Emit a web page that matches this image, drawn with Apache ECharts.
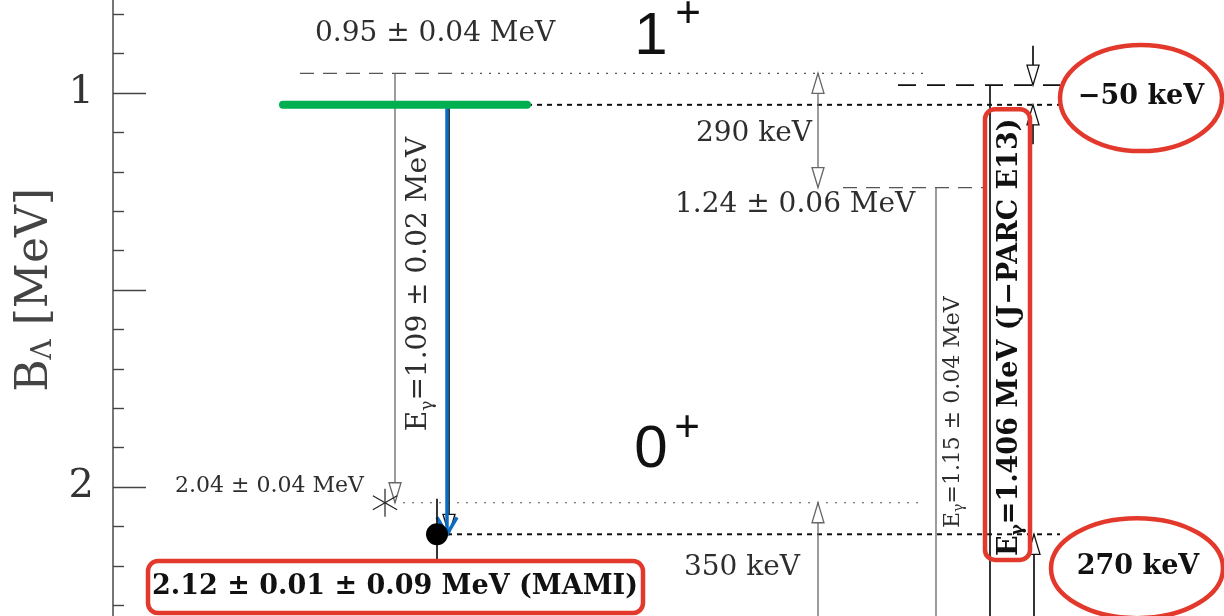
<!DOCTYPE html>
<html>
<head>
<meta charset="utf-8">
<script src="https://cdn.jsdelivr.net/npm/echarts@6/dist/echarts.min.js"></script>
<style>
  html, body { margin: 0; padding: 0; background: #fff; }
  #chart { width: 1224px; height: 616px; }
</style>
</head>
<body>
<div id="chart"></div>
<script>
// Lambda binding energies B_Λ (MeV) of the A = 4 hypernuclear levels
const levelKeys = ['H1emul', 'H1mami', 'He1jparc', 'He1emul', 'H0emul', 'H0mami', 'He0'];
const levelB    = [0.95, 1.03, 0.98, 1.24, 2.04, 2.12, 2.39];
const levelText = ['0.95 ± 0.04 MeV', '', '', '1.24 ± 0.06 MeV', '2.04 ± 0.04 MeV', '2.12 ± 0.01 ± 0.09 MeV (MAMI)', ''];
const mamiSysErr = 0.09;

// gamma-ray transitions (MeV)
const gammaE    = [1.09, 1.15, 1.406];
const gammaText = ['=1.09 ± 0.02 MeV', '=1.15 ± 0.04 MeV', '=1.406 MeV (J−PARC E13)'];

// level spacings (keV)
const gapKeV  = [290, -50, 350, 270];
const gapText = ['290 keV', '−50 keV', '350 keV', '270 keV'];

// spin-parity labels and labelled axis values
const spinLabels = ['1', '0'];
const yTickLabels = [1, 2];

const B = k => levelB[levelKeys.indexOf(k)];

const SERIF = "'DejaVu Serif', 'Liberation Serif', serif";
const SANS = "'Liberation Sans', Arial, sans-serif";
const RED = '#e2392c';

const ST = {
  gDash:  { stroke: '#555', lineWidth: 1.3, lineDash: [14, 9] },
  gDot:   { stroke: '#555', lineWidth: 1.2, lineDash: [2, 7] },
  kLong:  { stroke: '#111', lineWidth: 1.8, lineDash: [18, 11] },
  kShort: { stroke: '#111', lineWidth: 2, lineDash: [5, 5] },
  gLine:  { stroke: '#666', lineWidth: 1.3 },
  kLine:  { stroke: '#111', lineWidth: 1.7 },
  green:  { stroke: '#00b050', lineWidth: 8, lineCap: 'round' },
  blue:   { stroke: '#0a6cc4', lineWidth: 3.5 }
};

const TXT = {
  mid:   { fontFamily: SERIF, fontSize: 28, fill: '#2e2e2e' },
  small: { fontFamily: SERIF, fontSize: 22, fill: '#2e2e2e' },
  bold:  { fontFamily: SERIF, fontSize: 27, fontWeight: 'bold', fill: '#111' },
  spin:  { fontFamily: SANS, fontSize: 60, fill: '#111' },
  sup:   { fontFamily: SANS, fontSize: 44, fill: '#111' }
};

// E with a gamma subscript, followed by the rest of the label
function gammaRich(rest, base) {
  return {
    text: '{m|E}{s|γ}{m|' + rest + '}',
    rich: {
      m: { fontFamily: base.fontFamily, fontSize: base.fontSize, fontWeight: base.fontWeight || 'normal', fill: base.fill, lineHeight: base.fontSize * 1.2, verticalAlign: 'middle' },
      s: { fontFamily: base.fontFamily, fontSize: Math.round(base.fontSize * 0.62), fontWeight: base.fontWeight || 'normal', fill: base.fill, lineHeight: base.fontSize * 0.5, verticalAlign: 'bottom' }
    }
  };
}

// horizontal column positions of the drawing (axis units)
const elements = [
  // energy levels
  { kind: 'seg', x1: 300, x2: 462, b: B('H1emul'), st: 'gDash' },
  { kind: 'seg', x1: 462, x2: 925, b: B('H1emul'), st: 'gDot' },
  { kind: 'seg', x1: 898, x2: 1060, b: B('He1jparc'), st: 'kLong' },
  { kind: 'seg', x1: 843, x2: 985, b: B('He1emul'), st: 'gDash' },
  { kind: 'seg', x1: 403, x2: 920, b: B('H0emul'), st: 'gDot' },
  { kind: 'seg', x1: 527, x2: 1060, b: B('H1mami'), st: 'kShort' },
  { kind: 'seg', x1: 447, x2: 1060, b: B('H0mami'), st: 'kShort' },
  // transitions
  { kind: 'vline', x: 936, b1: B('He1emul'), b2: B('He0'), st: 'gLine' },
  { kind: 'vline', x: 990, b1: B('He1jparc'), b2: B('He0'), st: 'kLine' },
  { kind: 'arrow', x: 395, b1: B('H1emul'), b2: B('H0emul'), st: 'gLine' },
  { kind: 'arrow', x: 818, b1: B('H1emul'), b2: B('He1emul'), st: 'gLine', both: true },
  { kind: 'arrow', x: 818, b1: B('He0'), b2: B('H0emul'), st: 'gLine' },
  { kind: 'arrow', x: 1033, b1: B('He1jparc') - 0.1, b2: B('He1jparc'), st: 'kLine' },
  { kind: 'arrow', x: 1033, b1: B('H1mami') + 0.1, b2: B('H1mami'), st: 'kLine' },
  { kind: 'arrow', x: 1034, b1: B('He0'), b2: B('H0mami'), st: 'kLine' },
  { kind: 'arrow', x: 449, b1: B('H1mami'), b2: B('H0mami'), st: 'kLine' },
  { kind: 'arrow', x: 447, b1: B('H1mami'), b2: B('H0mami'), st: 'blue', open: true },
  { kind: 'seg', x1: 283, x2: 527, b: B('H1mami'), st: 'green' },
  // measured ground states
  { kind: 'vline', x: 437, b1: B('H0mami') - mamiSysErr, b2: B('H0mami') + mamiSysErr, st: 'kLine' },
  { kind: 'dot', x: 437, b: B('H0mami') },
  { kind: 'star', x: 385, b: B('H0emul') },
  // highlighted annotations
  { kind: 'rect', x1: 148, x2: 643, b1: 2.188, b2: 2.32, fill: '#fff' },
  { kind: 'rect', x1: 985, x2: 1030, b1: 1.041, b2: 2.185, fill: 'none' },
  { kind: 'ellipse', x: 1141, b: 1.013, rx: 81, ry: 53 },
  { kind: 'ellipse', x: 1137, b: 2.206, rx: 86, ry: 50 },
  // text
  { kind: 'text', x: 315, b: B('H1emul'), dy: -40, text: levelText[0], ts: 'mid', align: 'left' },
  { kind: 'text', x: 812, b: B('H1emul'), dy: 60, text: gapText[0], ts: 'mid', align: 'right' },
  { kind: 'text', x: 675, b: B('He1emul'), dy: 17, text: levelText[3], ts: 'mid', align: 'left' },
  { kind: 'text', x: 800, b: B('H0emul'), dy: 65, text: gapText[2], ts: 'mid', align: 'right' },
  { kind: 'text', x: 175, b: B('H0emul'), dy: -16, text: levelText[4], ts: 'small', align: 'left' },
  { kind: 'text', x: 395, b: B('H0mami'), dy: 53, text: levelText[5], ts: 'bold', align: 'center' },
  { kind: 'text', x: 1141, b: 1.005, dy: 2, text: gapText[1], ts: 'bold', align: 'center' },
  { kind: 'text', x: 1138, b: B('H0mami'), dy: 33, text: gapText[3], ts: 'bold', align: 'center' },
  { kind: 'gtext', x: 419, b: 1.5, dy: -6, text: gammaText[0], ts: 'mid' },
  { kind: 'gtext', x: 953, b: 1.81, dy: 0, text: gammaText[1], ts: 'small' },
  { kind: 'gtext', x: 1010, b: 1.62, dy: 0, text: gammaText[2], ts: 'bold' },
  { kind: 'text', x: 651, b: B('H1emul'), dy: -36, text: spinLabels[0], ts: 'spin', align: 'center' },
  { kind: 'text', x: 688, b: B('H1emul'), dy: -58, text: '+', ts: 'sup', align: 'center' },
  { kind: 'text', x: 651, b: B('H0emul'), dy: -52, text: spinLabels[1], ts: 'spin', align: 'center' },
  { kind: 'text', x: 687, b: B('H0emul'), dy: -74, text: '+', ts: 'sup', align: 'center' }
];

function arrowHead(x, tip, dir, style, open) {
  const L = open ? 17 : 20, w = open ? 10 : 6;
  const base = tip - dir * L;
  if (open) {
    return { type: 'polyline', shape: { points: [[x - w, base], [x, tip], [x + w, base]] },
             style: Object.assign({}, style, { fill: null }) };
  }
  return { type: 'polygon', shape: { points: [[x, tip], [x - w, base], [x + w, base]] },
           style: Object.assign({}, style, { fill: '#fff', lineDash: null, lineWidth: 1.3 }) };
}

function renderItem(params, api) {
  const e = elements[params.dataIndex];
  const P = (x, b) => api.coord([x, b]);
  switch (e.kind) {
    case 'seg': {
      const a = P(e.x1, e.b), c = P(e.x2, e.b);
      return { type: 'line', shape: { x1: a[0], y1: a[1], x2: c[0], y2: c[1] }, style: Object.assign({}, ST[e.st]) };
    }
    case 'vline': {
      const a = P(e.x, e.b1), c = P(e.x, e.b2);
      return { type: 'line', shape: { x1: a[0], y1: a[1], x2: c[0], y2: c[1] }, style: Object.assign({}, ST[e.st]) };
    }
    case 'arrow': {
      const a = P(e.x, e.b1), c = P(e.x, e.b2);
      const dir = Math.sign(c[1] - a[1]);
      const kids = [{ type: 'line', shape: { x1: a[0], y1: a[1], x2: c[0], y2: c[1] }, style: Object.assign({}, ST[e.st]) }];
      kids.push(arrowHead(c[0], c[1], dir, ST[e.st], e.open));
      if (e.both) kids.push(arrowHead(a[0], a[1], -dir, ST[e.st], e.open));
      return { type: 'group', children: kids };
    }
    case 'dot': {
      const p = P(e.x, e.b);
      return { type: 'circle', shape: { cx: p[0], cy: p[1], r: 11 }, style: { fill: '#000' } };
    }
    case 'star': {
      const p = P(e.x, e.b), r = 14;
      const kids = [90, 30, 150].map(deg => {
        const t = deg * Math.PI / 180, dx = Math.cos(t) * r, dy = Math.sin(t) * r;
        return { type: 'line', shape: { x1: p[0] - dx, y1: p[1] - dy, x2: p[0] + dx, y2: p[1] + dy }, style: { stroke: '#222', lineWidth: 1.2 } };
      });
      return { type: 'group', children: kids };
    }
    case 'rect': {
      const a = P(e.x1, e.b1), c = P(e.x2, e.b2);
      return { type: 'rect', shape: { x: a[0], y: a[1], width: c[0] - a[0], height: c[1] - a[1], r: 10 },
               style: { fill: e.fill, stroke: RED, lineWidth: 4.5 } };
    }
    case 'ellipse': {
      const p = P(e.x, e.b);
      return { type: 'ellipse', shape: { cx: p[0], cy: p[1], rx: e.rx, ry: e.ry },
               style: { fill: 'none', stroke: RED, lineWidth: 4.5 } };
    }
    case 'text': {
      const p = P(e.x, e.b);
      return { type: 'text', x: p[0], y: p[1] + e.dy,
               style: Object.assign({ text: e.text, align: e.align, verticalAlign: 'middle' }, TXT[e.ts]) };
    }
    case 'gtext': {
      const p = P(e.x, e.b);
      const base = TXT[e.ts];
      return { type: 'text', x: p[0], y: p[1] + e.dy, rotation: Math.PI / 2,
               style: Object.assign({ align: 'center', verticalAlign: 'middle' }, gammaRich(e.text, base)) };
    }
  }
  return null;
}

const chart = echarts.init(document.getElementById('chart'), null, { renderer: 'canvas' });
chart.setOption({
  animation: false,
  backgroundColor: '#fff',
  grid: { left: 113, right: 0, top: -104, bottom: -68, containLabel: false, outerBoundsMode: 'none' },
  xAxis: { type: 'value', min: 113, max: 1224, show: false },
  yAxis: {
    type: 'value', inverse: true, min: 0.5, max: 2.5, interval: 0.5,
    name: 'B{s|Λ} [MeV]', nameLocation: 'middle', nameRotate: 90, nameGap: 54,
    nameTextStyle: {
      fontFamily: SERIF, fontSize: 44, color: '#444',
      rich: { s: { fontFamily: SERIF, fontSize: 28, color: '#444', lineHeight: 18, verticalAlign: 'bottom' } }
    },
    axisLine: { show: true, lineStyle: { color: '#555', width: 1.6 } },
    axisTick: { show: true, inside: true, length: 33, lineStyle: { color: '#444', width: 1.4 } },
    minorTick: { show: true, splitNumber: 5, length: 11, lineStyle: { color: '#444', width: 1.4 } },
    splitLine: { show: false },
    minorSplitLine: { show: false },
    axisLabel: {
      margin: 19, fontFamily: SERIF, fontSize: 40, color: '#333',
      formatter: v => (yTickLabels.some(t => Math.abs(t - v) < 1e-9) ? String(Math.round(v)) : '')
    }
  },
  series: [{
    type: 'custom', coordinateSystem: 'cartesian2d', silent: true, clip: false,
    data: elements.map(e => [e.x !== undefined ? e.x : e.x1, e.b !== undefined ? e.b : e.b1]),
    renderItem: renderItem
  }]
});
</script>
</body>
</html>
